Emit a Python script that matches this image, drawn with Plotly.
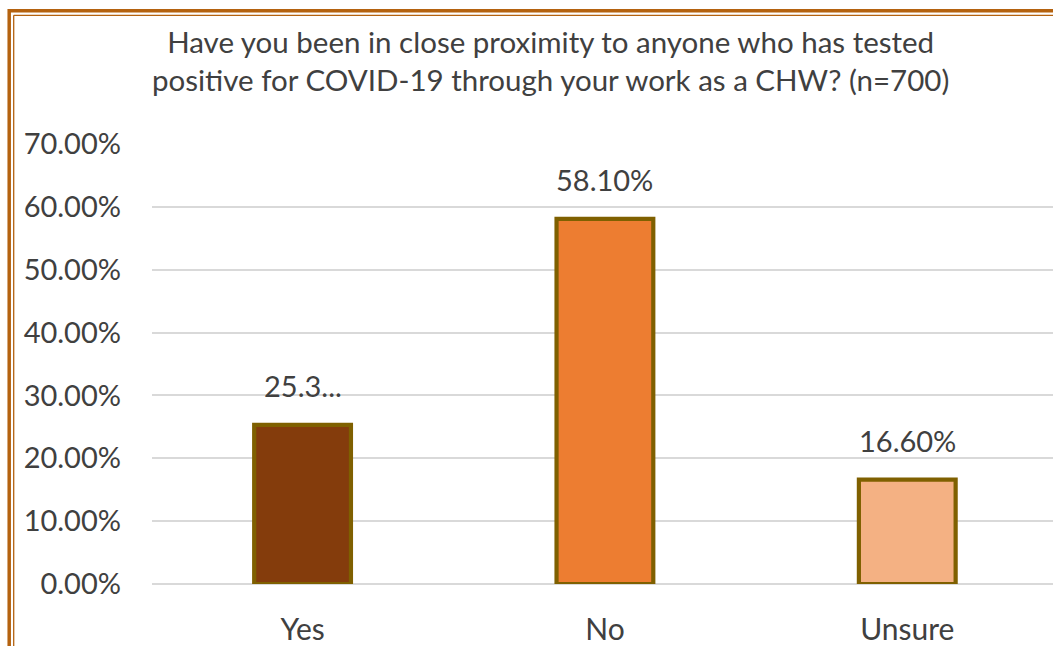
import plotly.graph_objects as go

categories = ["Yes", "No", "Unsure"]
values = [25.3, 58.1, 16.6]
bar_colors = ["#843C0C", "#ED7D31", "#F4B183"]
value_labels = ["25.3...", "58.10%", "16.60%"]
y_tick_values = [0, 10, 20, 30, 40, 50, 60, 70]
y_tick_labels = ["0.00%", "10.00%", "20.00%", "30.00%", "40.00%", "50.00%", "60.00%", "70.00%"]
title_text = ("Have you been in close proximity to anyone who has tested<br>"
              "positive for COVID-19 through your work as a CHW? (n=700)")

W, H = 1053, 646
ML, MR, MT, MB = 152, 0, 144, 62
FONT = "Lato, 'Open Sans', sans-serif"
TXT = "#404040"
FRAME = "#B4620F"

def px_x(p):
    return (p - ML) / (W - ML - MR)

def px_y(p):
    return 1 - (p - MT) / (H - MT - MB)

fig = go.Figure()
fig.add_trace(go.Bar(
    x=categories, y=values,
    marker=dict(color=bar_colors, line=dict(color="#7F6000", width=4.2)),
    width=0.32,
    hoverinfo="skip",
))

for c, v, t in zip(categories, values, value_labels):
    fig.add_annotation(x=c, y=v, text=t, showarrow=False, yanchor="bottom",
                       yshift=20, font=dict(family=FONT, size=29, color=TXT))

# title as a centred two-line annotation
fig.add_annotation(text=title_text, xref="paper", yref="paper", x=px_x(550), y=px_y(60),
                   xanchor="center", yanchor="middle", showarrow=False,
                   font=dict(family=FONT, size=29.5, color=TXT))

# decorative double frame (top and left, as cropped in the reference)
shapes = [
    dict(type="line", xref="paper", yref="paper", x0=px_x(9.2), x1=px_x(1060), y0=px_y(10.8), y1=px_y(10.8),
         line=dict(color=FRAME, width=3.5)),
    dict(type="line", xref="paper", yref="paper", x0=px_x(9.2), x1=px_x(9.2), y0=px_y(9), y1=px_y(660),
         line=dict(color=FRAME, width=3.5)),
    dict(type="line", xref="paper", yref="paper", x0=px_x(13.7), x1=px_x(1060), y0=px_y(15.3), y1=px_y(15.3),
         line=dict(color=FRAME, width=1.3)),
    dict(type="line", xref="paper", yref="paper", x0=px_x(13.7), x1=px_x(13.7), y0=px_y(15.3), y1=px_y(660),
         line=dict(color=FRAME, width=1.3)),
]

fig.update_layout(
    width=W, height=H, autosize=False,
    margin=dict(l=ML, r=MR, t=MT, b=MB, pad=0),
    paper_bgcolor="white", plot_bgcolor="white",
    showlegend=False,
    shapes=shapes,
    font=dict(family=FONT, size=29, color=TXT),
)
fig.update_xaxes(
    range=[-0.498, 2.482], showgrid=False, zeroline=False, showline=False,
    ticks="", ticklabelstandoff=25, tickfont=dict(family=FONT, size=30, color=TXT),
)
fig.update_yaxes(
    range=[0, 70], tickvals=y_tick_values, ticktext=y_tick_labels,
    showgrid=True, gridcolor="#D9D9D9", gridwidth=1.6,
    zeroline=True, zerolinecolor="#D9D9D9", zerolinewidth=1.6, showline=False,
    ticks="", ticklabelstandoff=30, tickfont=dict(family=FONT, size=29, color=TXT),
)

fig.write_html("out.html", config={"displayModeBar": False},
               post_script="document.body.style.margin='0';document.body.style.overflow='hidden';")
